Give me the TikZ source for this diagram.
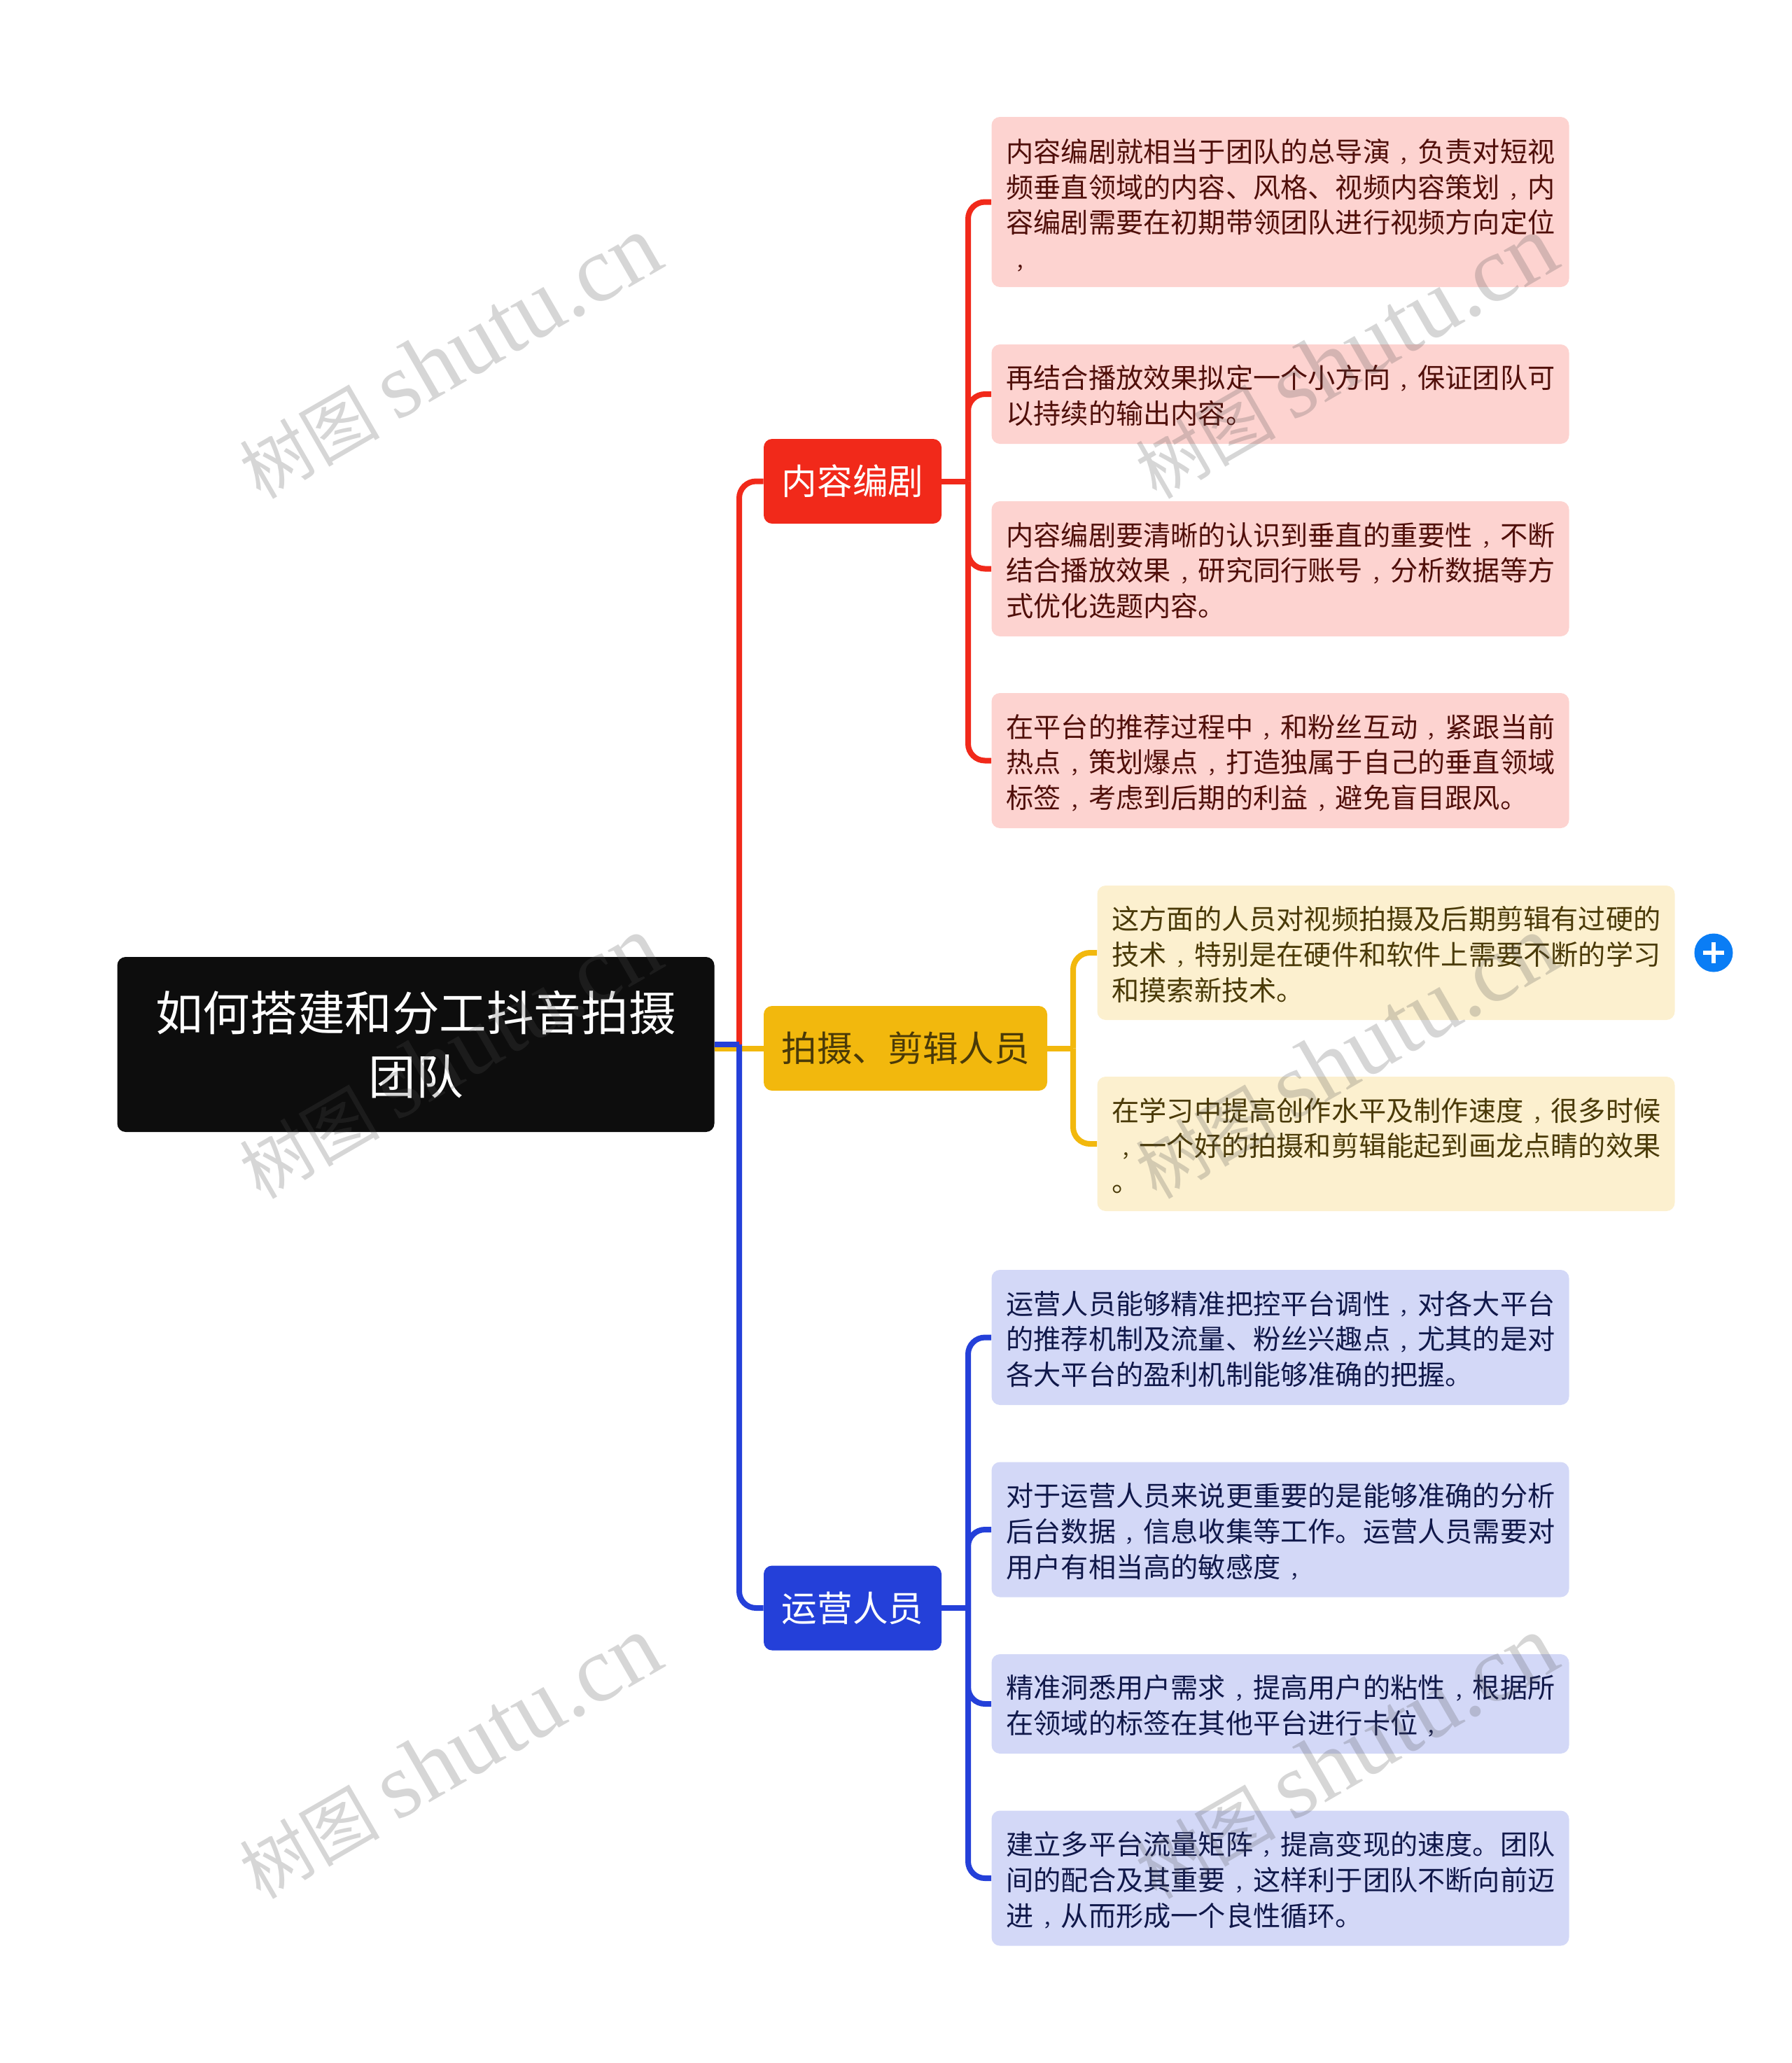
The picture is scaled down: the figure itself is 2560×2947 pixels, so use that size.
\documentclass[tikz,border=0pt]{standalone}
\usepackage{fontspec}
\setmainfont{Noto Sans CJK SC}
\newfontfamily\cmafont[Scale=0.72]{Noto Sans CJK TC}
\newfontfamily\wmlatin{Liberation Serif}
\catcode`，=\active
\def，{\makebox[1em]{\smash{\raisebox{-.24em}{\cmafont\char"FF0C}}}}
\newcommand\wmark{{\fontsize{50}{60}\selectfont 树图}\hspace{12pt}{\fontsize{66.5}{70}\selectfont\wmlatin shutu.cn}}
\definecolor{cblack}{HTML}{0D0D0D}
\definecolor{cred}{HTML}{F1291A}
\definecolor{cyel}{HTML}{F2B80D}
\definecolor{cblu}{HTML}{2440D9}
\definecolor{lred}{HTML}{FDD3D0}
\definecolor{lyel}{HTML}{FCF0CF}
\definecolor{lblu}{HTML}{D3D8F7}
\definecolor{tred}{HTML}{500F0A}
\definecolor{tyel}{HTML}{4A3A08}
\definecolor{tblu}{HTML}{10184A}
\definecolor{cplus}{HTML}{0A7DF5}
\definecolor{cwm}{HTML}{4F4F4F}
\tikzset{% This is the style settings for nodes
    root/.style={rectangle,rounded corners=6pt,fill=cblack,text=white,minimum width=426.5pt,minimum height=125pt,
      align=center,font=\fontsize{33.8}{45.6}\selectfont},
    bra/.style={rectangle,rounded corners=6pt,minimum height=60.5pt,inner xsep=0pt,
      font=\fontsize{25.3}{30}\selectfont},
    leaf/.style={rectangle,rounded corners=6pt,text width=391.5pt,inner xsep=10.5pt,inner ysep=0pt,
      align=left,font=\fontsize{19.6}{25.4}\selectfont,execute at begin node={\rule{0pt}{19pt}}},
    wm/.style={rotate=30,text=cwm,text opacity=0.23},
    e/.style={line width=4pt,rounded corners=12pt},
    plusbar/.style={draw=white,line width=3.4pt}}

\begin{document}
\begin{tikzpicture}[x=0.5pt,y=-0.5pt]
    \useasboundingbox (0,0) rectangle (2560,2947);

    \node[root] (0) at (594,1492) {如何搭建和分工抖音拍摄\\团队};

    \node[bra,fill=cred,text=white,minimum width=127pt] (r) at (1218,687.5) {内容编剧};
    \node[bra,fill=cyel,text=tyel,minimum width=202.5pt] (y) at (1293.5,1497.5) {拍摄、剪辑人员};
    \node[bra,fill=cblu,text=white,minimum width=127pt] (b) at (1218,2297) {运营人员};

    \node[leaf,fill=lred,text=tred,minimum height=121.5pt] (r1) at (1829,288.5) {内容编剧就相当于团队的总导演，负责对短视\\频垂直领域的内容、风格、视频内容策划，内\\容编剧需要在初期带领团队进行视频方向定位\\，};
    \node[leaf,fill=lred,text=tred,minimum height=71pt] (r2) at (1829,563) {再结合播放效果拟定一个小方向，保证团队可\\以持续的输出内容。};
    \node[leaf,fill=lred,text=tred,minimum height=96.5pt] (r3) at (1829,812.5) {内容编剧要清晰的认识到垂直的重要性，不断\\结合播放效果，研究同行账号，分析数据等方\\式优化选题内容。};
    \node[leaf,fill=lred,text=tred,minimum height=96.5pt] (r4) at (1829,1086.5) {在平台的推荐过程中，和粉丝互动，紧跟当前\\热点，策划爆点，打造独属于自己的垂直领域\\标签，考虑到后期的利益，避免盲目跟风。};

    \node[leaf,fill=lyel,text=tyel,minimum height=96pt] (y1) at (1980,1361) {这方面的人员对视频拍摄及后期剪辑有过硬的\\技术，特别是在硬件和软件上需要不断的学习\\和摸索新技术。};
    \node[leaf,fill=lyel,text=tyel,minimum height=96pt] (y2) at (1980,1634) {在学习中提高创作水平及制作速度，很多时候\\，一个好的拍摄和剪辑能起到画龙点睛的效果\\。};

    \node[leaf,fill=lblu,text=tblu,minimum height=96.5pt] (b1) at (1829,1910.5) {运营人员能够精准把控平台调性，对各大平台\\的推荐机制及流量、粉丝兴趣点，尤其的是对\\各大平台的盈利机制能够准确的把握。};
    \node[leaf,fill=lblu,text=tblu,minimum height=96.5pt] (b2) at (1829,2185) {对于运营人员来说更重要的是能够准确的分析\\后台数据，信息收集等工作。运营人员需要对\\用户有相当高的敏感度，};
    \node[leaf,fill=lblu,text=tblu,minimum height=71pt] (b3) at (1829,2434) {精准洞悉用户需求，提高用户的粘性，根据所\\在领域的标签在其他平台进行卡位，};
    \node[leaf,fill=lblu,text=tblu,minimum height=96.5pt] (b4) at (1829,2683) {建立多平台流量矩阵，提高变现的速度。团队\\间的配合及其重要，这样利于团队不断向前迈\\进，从而形成一个良性循环。};

    \node[circle,fill=cplus,minimum size=27.5pt,inner sep=0pt] (add) at (2448,1361) {};
    \draw[plusbar] ([xshift=-7.5pt]add.center) -- ([xshift=7.5pt]add.center);
    \draw[plusbar] ([yshift=-7.5pt]add.center) -- ([yshift=7.5pt]add.center);

    \coordinate (jr) at (1383,687.5);
    \coordinate (jy) at (1533,1497.5);
    \coordinate (jb) at (1383,2297);
    \coordinate (j0) at (1056,1492);

    \draw[e,cyel] (0.east |- y.west) -- (y.west);
    \draw[e,cred] (j0) |- (r.west);
    \draw[e,cblu] (0.east) -- (j0);
    \draw[e,cblu] (j0) |- (b.west);

    \draw[e,cred] (r.east) -- (jr);
    \draw[e,cred] (jr) |- (r1.west);
    \draw[e,cred] (jr) |- (r2.west);
    \draw[e,cred] (jr) |- (r3.west);
    \draw[e,cred] (jr) |- (r4.west);

    \draw[e,cyel] (y.east) -- (jy);
    \draw[e,cyel] (jy) |- (y1.west);
    \draw[e,cyel] (jy) |- (y2.west);

    \draw[e,cblu] (b.east) -- (jb);
    \draw[e,cblu] (jb) |- (b1.west);
    \draw[e,cblu] (jb) |- (b2.west);
    \draw[e,cblu] (jb) |- (b3.west);
    \draw[e,cblu] (jb) |- (b4.west);

    % watermark
    \node[wm] (w1) at (642,510) {\wmark};
    \node[wm] (w2) at (1922,510) {\wmark};
    \node[wm] (w3) at (642,1510) {\wmark};
    \node[wm] (w4) at (1922,1510) {\wmark};
    \node[wm] (w5) at (642,2510) {\wmark};
    \node[wm] (w6) at (1922,2510) {\wmark};
\end{tikzpicture}
\end{document}
